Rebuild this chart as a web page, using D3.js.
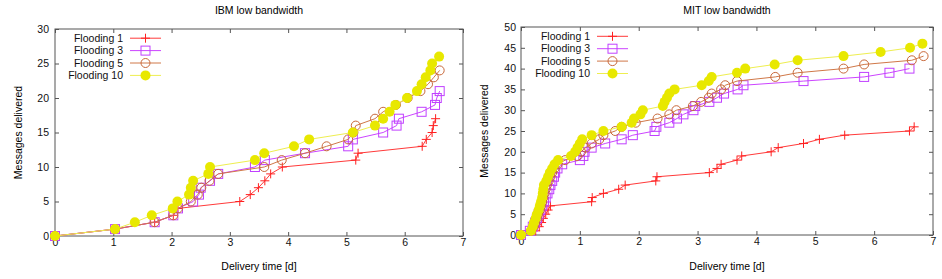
<!DOCTYPE html>
<html>
<head>
<meta charset="utf-8">
<script src="https://cdn.jsdelivr.net/npm/d3@7"></script>
<style>
  body { margin: 0; background: #fff; }
  text { font-family: "Liberation Sans", Arial, sans-serif; }
</style>
</head>
<body>
<div id="drawing"></div>
<script>
// page size
const width = 942;
const height = 279;

// tick values
const xTicks = [0, 1, 2, 3, 4, 5, 6, 7];
const ibmYTicks = [0, 5, 10, 15, 20, 25, 30];
const mitYTicks = [0, 5, 10, 15, 20, 25, 30, 35, 40, 45, 50];

// legend names
const seriesNames = ["Flooding 1", "Flooding 3", "Flooding 5", "Flooding 10"];

// IBM low bandwidth: [delivery time (days), messages delivered]
const ibmFlooding1 = [[0,0],[1.03,1],[1.71,2],[2.03,3],[2.11,4],[3.17,5],[3.35,6],[3.49,7],[3.6,8],[3.7,9],[3.9,10],
  [5.16,11],[5.2,12],[6.3,13],[6.37,14],[6.47,15],[6.49,16],[6.53,17]];
const ibmFlooding3 = [[0,0],[1.03,1],[1.71,2],[2.03,3],[2.11,4],[2.37,5],[2.47,6],[2.5,7],[2.66,8],[2.8,9],[3.43,10],
  [3.6,11],[4.29,12],[5.03,13],[5.11,14],[5.63,15],[5.86,16],[5.9,17],[6.29,18],[6.52,19],[6.55,20],[6.6,21]];
const ibmFlooding5 = [[0,0],[1.03,1],[1.71,2],[2.03,3],[2.11,4],[2.33,5],[2.45,6],[2.51,7],[2.65,8],[2.8,9],[3.59,10],
  [3.89,11],[4.29,12],[4.66,13],[5.03,14],[5.12,15],[5.16,16],[5.49,17],[5.63,18],[5.85,19],[6.05,20],[6.27,21],
  [6.4,22],[6.5,23],[6.6,24]];
const ibmFlooding10 = [[0,0],[1.03,1],[1.37,2],[1.66,3],[2.02,4],[2.1,5],[2.3,6],[2.33,7],[2.37,8],[2.63,9],[2.66,10],
  [3.43,11],[3.59,12],[4.1,13],[4.36,14],[5.11,15],[5.49,16],[5.63,17],[5.74,18],[5.84,19],[6.04,20],[6.21,21],
  [6.29,22],[6.36,23],[6.44,24],[6.47,25],[6.59,26]];

// MIT low bandwidth
const mitFlooding1 = [[0,0],[0.25,1],[0.31,2],[0.35,3],[0.38,4],[0.42,5],[0.46,6],[0.5,7],[1.2,8],[1.21,9],[1.4,10],
  [1.66,11],[1.77,12],[2.29,13],[2.31,14],[3.2,15],[3.33,16],[3.4,17],[3.67,18],[3.75,19],[4.25,20],[4.37,21],
  [4.8,22],[5.07,23],[5.5,24],[6.6,25],[6.68,26]];
const mitFlooding3 = [[0,0],[0.15,1],[0.2,2],[0.24,3],[0.27,4],[0.3,5],[0.33,6],[0.36,7],[0.39,8],[0.42,9],[0.45,10],
  [0.48,11],[0.5,12],[0.53,13],[0.56,14],[0.58,15],[0.62,16],[0.7,17],[1.0,18],[1.06,19],[1.08,20],[1.2,21],
  [1.43,22],[1.71,23],[1.9,24],[2.27,25],[2.3,26],[2.52,27],[2.65,28],[2.76,29],[2.93,30],[2.96,31],[3.2,32],
  [3.33,33],[3.45,34],[3.68,35],[3.78,36],[4.8,37],[5.83,38],[6.26,39],[6.6,40]];
const mitFlooding5 = [[0,0],[0.17,1],[0.21,2],[0.24,3],[0.27,4],[0.29,5],[0.32,6],[0.34,7],[0.36,8],[0.38,9],[0.4,10],
  [0.42,11],[0.44,12],[0.47,13],[0.5,14],[0.53,15],[0.57,16],[0.62,17],[0.75,18],[0.95,19],[1.02,20],[1.1,21],
  [1.2,22],[1.33,23],[1.4,24],[1.6,25],[1.71,26],[1.95,27],[2.32,28],[2.52,29],[2.64,30],[2.92,31],[3.06,32],
  [3.19,33],[3.24,34],[3.4,35],[3.47,36],[3.67,37],[4.32,38],[4.7,39],[5.48,40],[5.83,41],[6.64,42],[6.84,43]];
const mitFlooding10 = [[0,0],[0.17,1],[0.2,2],[0.22,3],[0.25,4],[0.27,5],[0.3,6],[0.32,7],[0.34,8],[0.36,9],[0.37,10],
  [0.38,11],[0.39,12],[0.43,13],[0.46,14],[0.49,15],[0.53,16],[0.57,17],[0.63,18],[0.85,19],[0.92,20],[0.96,21],
  [1.0,22],[1.04,23],[1.2,24],[1.4,25],[1.71,26],[1.88,27],[1.92,28],[2.03,29],[2.07,30],[2.41,31],[2.44,32],
  [2.48,33],[2.52,34],[2.61,35],[3.07,36],[3.19,37],[3.24,38],[3.67,39],[3.81,40],[4.31,41],[4.7,42],[5.48,43],
  [6.11,44],[6.61,45],[6.82,46]];

// how each series is drawn (line colour, marker type)
const styles = [
  {line: "#ff3a3a", mark: "#ff2020", type: "plus"},
  {line: "#cc44ff", mark: "#c040ff", type: "square"},
  {line: "#d07848", mark: "#c8683a", type: "circle"},
  {line: "#eeee50", mark: "#e8e800", type: "dot"}
];

let drawing;

function setup(){
  drawing = d3.select("#drawing").append("svg")
    .attr("width", width)
    .attr("height", height)
    .style("background", "#ffffff");
}

function drawMarker(g, type, style){
  if(type === "plus"){
    g.append("path").attr("d", "M-4.5,0H4.5M0,-4.5V4.5")
      .attr("stroke", style.mark).attr("stroke-width", 1).attr("fill", "none");
  } else if(type === "square"){
    g.append("rect").attr("x", -4.5).attr("y", -4.5).attr("width", 9).attr("height", 9)
      .attr("stroke", style.mark).attr("stroke-width", 1).attr("fill", "none");
  } else if(type === "circle"){
    g.append("circle").attr("r", 4.5)
      .attr("stroke", style.mark).attr("stroke-width", 1).attr("fill", "none");
  } else {
    g.append("circle").attr("r", 5).attr("fill", style.mark);
  }
}

// one gnuplot-like panel
function makePanel(opt){
  const w = opt.right - opt.left;
  const h = opt.bottom - opt.top;
  const area = drawing.append("g")
    .attr("transform", `translate(${opt.left}, ${opt.top})`);

  const xScale = d3.scaleLinear().domain([0, 7]).range([0, w]);
  const yScale = d3.scaleLinear().domain([0, opt.yMax]).range([h, 0]);

  // axes with inward ticks, mirrored on top and right
  area.append("g")
    .attr("transform", `translate(0,${h})`)
    .call(d3.axisBottom(xScale).tickValues(xTicks).tickFormat(d3.format("d")).tickSize(-4).tickPadding(3));
  area.append("g")
    .call(d3.axisLeft(yScale).tickValues(opt.yTicks).tickFormat(d3.format("d")).tickSize(-4).tickPadding(opt.yPad));
  area.append("g")
    .call(d3.axisTop(xScale).tickValues(xTicks).tickSize(-4).tickFormat(""));
  area.append("g")
    .attr("transform", `translate(${w},0)`)
    .call(d3.axisRight(yScale).tickValues(opt.yTicks).tickSize(-4).tickFormat(""));

  area.selectAll(".domain").remove();
  area.selectAll(".tick line").attr("stroke", "#555");
  area.selectAll(".tick text")
    .attr("fill", "#111")
    .style("font-family", "'Liberation Sans', Arial, sans-serif")
    .style("font-size", "10.5px");

  // frame
  area.append("rect")
    .attr("width", w).attr("height", h)
    .attr("fill", "none").attr("stroke", "#555").attr("stroke-width", 1);

  // series
  const line = d3.line().x(d => xScale(d[0])).y(d => yScale(d[1]));
  opt.series.forEach((data, i) => {
    const st = styles[i];
    area.append("path")
      .datum(data)
      .attr("d", line)
      .attr("fill", "none")
      .attr("stroke", st.line)
      .attr("stroke-width", 1);
    area.selectAll(".m" + i)
      .data(data)
      .enter()
      .append("g")
        .attr("class", "m" + i)
        .attr("transform", d => `translate(${xScale(d[0])},${yScale(d[1])})`)
        .each(function(){ drawMarker(d3.select(this), st.type, st); });
  });

  // legend, top-left inside the frame
  seriesNames.forEach((name, i) => {
    const st = styles[i];
    const ly = opt.legendY + i * 12.4;
    drawing.append("text")
      .attr("x", opt.legendX).attr("y", ly)
      .attr("dy", "0.35em")
      .attr("text-anchor", "end")
      .style("font-size", "10.5px")
      .attr("fill", "#111")
      .text(name);
    drawing.append("line")
      .attr("x1", opt.legendX + 7).attr("x2", opt.legendX + 38)
      .attr("y1", ly).attr("y2", ly)
      .attr("stroke", st.line).attr("stroke-width", 1);
    const mg = drawing.append("g").attr("transform", `translate(${opt.legendX + 22.5},${ly})`);
    drawMarker(mg, st.type, st);
  });

  // titles
  drawing.append("text")
    .attr("x", opt.left + w / 2).attr("y", 14)
    .attr("text-anchor", "middle")
    .style("font-size", "10.5px")
    .text(opt.title);
  drawing.append("text")
    .attr("x", opt.left + w / 2).attr("y", 270)
    .attr("text-anchor", "middle")
    .style("font-size", "10.5px")
    .text("Delivery time [d]");
  drawing.append("text")
    .attr("transform", `translate(${opt.yLabelX},${opt.top + h / 2}) rotate(-90)`)
    .attr("text-anchor", "middle")
    .style("font-size", "10.5px")
    .text("Messages delivered");
}

function make(){
  makePanel({
    title: "IBM low bandwidth",
    left: 55, right: 463, top: 29, bottom: 236,
    yMax: 30, yTicks: ibmYTicks, yPad: 6,
    series: [ibmFlooding1, ibmFlooding3, ibmFlooding5, ibmFlooding10],
    legendX: 123, legendY: 38.2,
    yLabelX: 22
  });
  makePanel({
    title: "MIT low bandwidth",
    left: 521, right: 933, top: 27, bottom: 235,
    yMax: 50, yTicks: mitYTicks, yPad: 5,
    series: [mitFlooding1, mitFlooding3, mitFlooding5, mitFlooding10],
    legendX: 590, legendY: 36.3,
    yLabelX: 488
  });
}

setup();
make();
</script>
</body>
</html>
